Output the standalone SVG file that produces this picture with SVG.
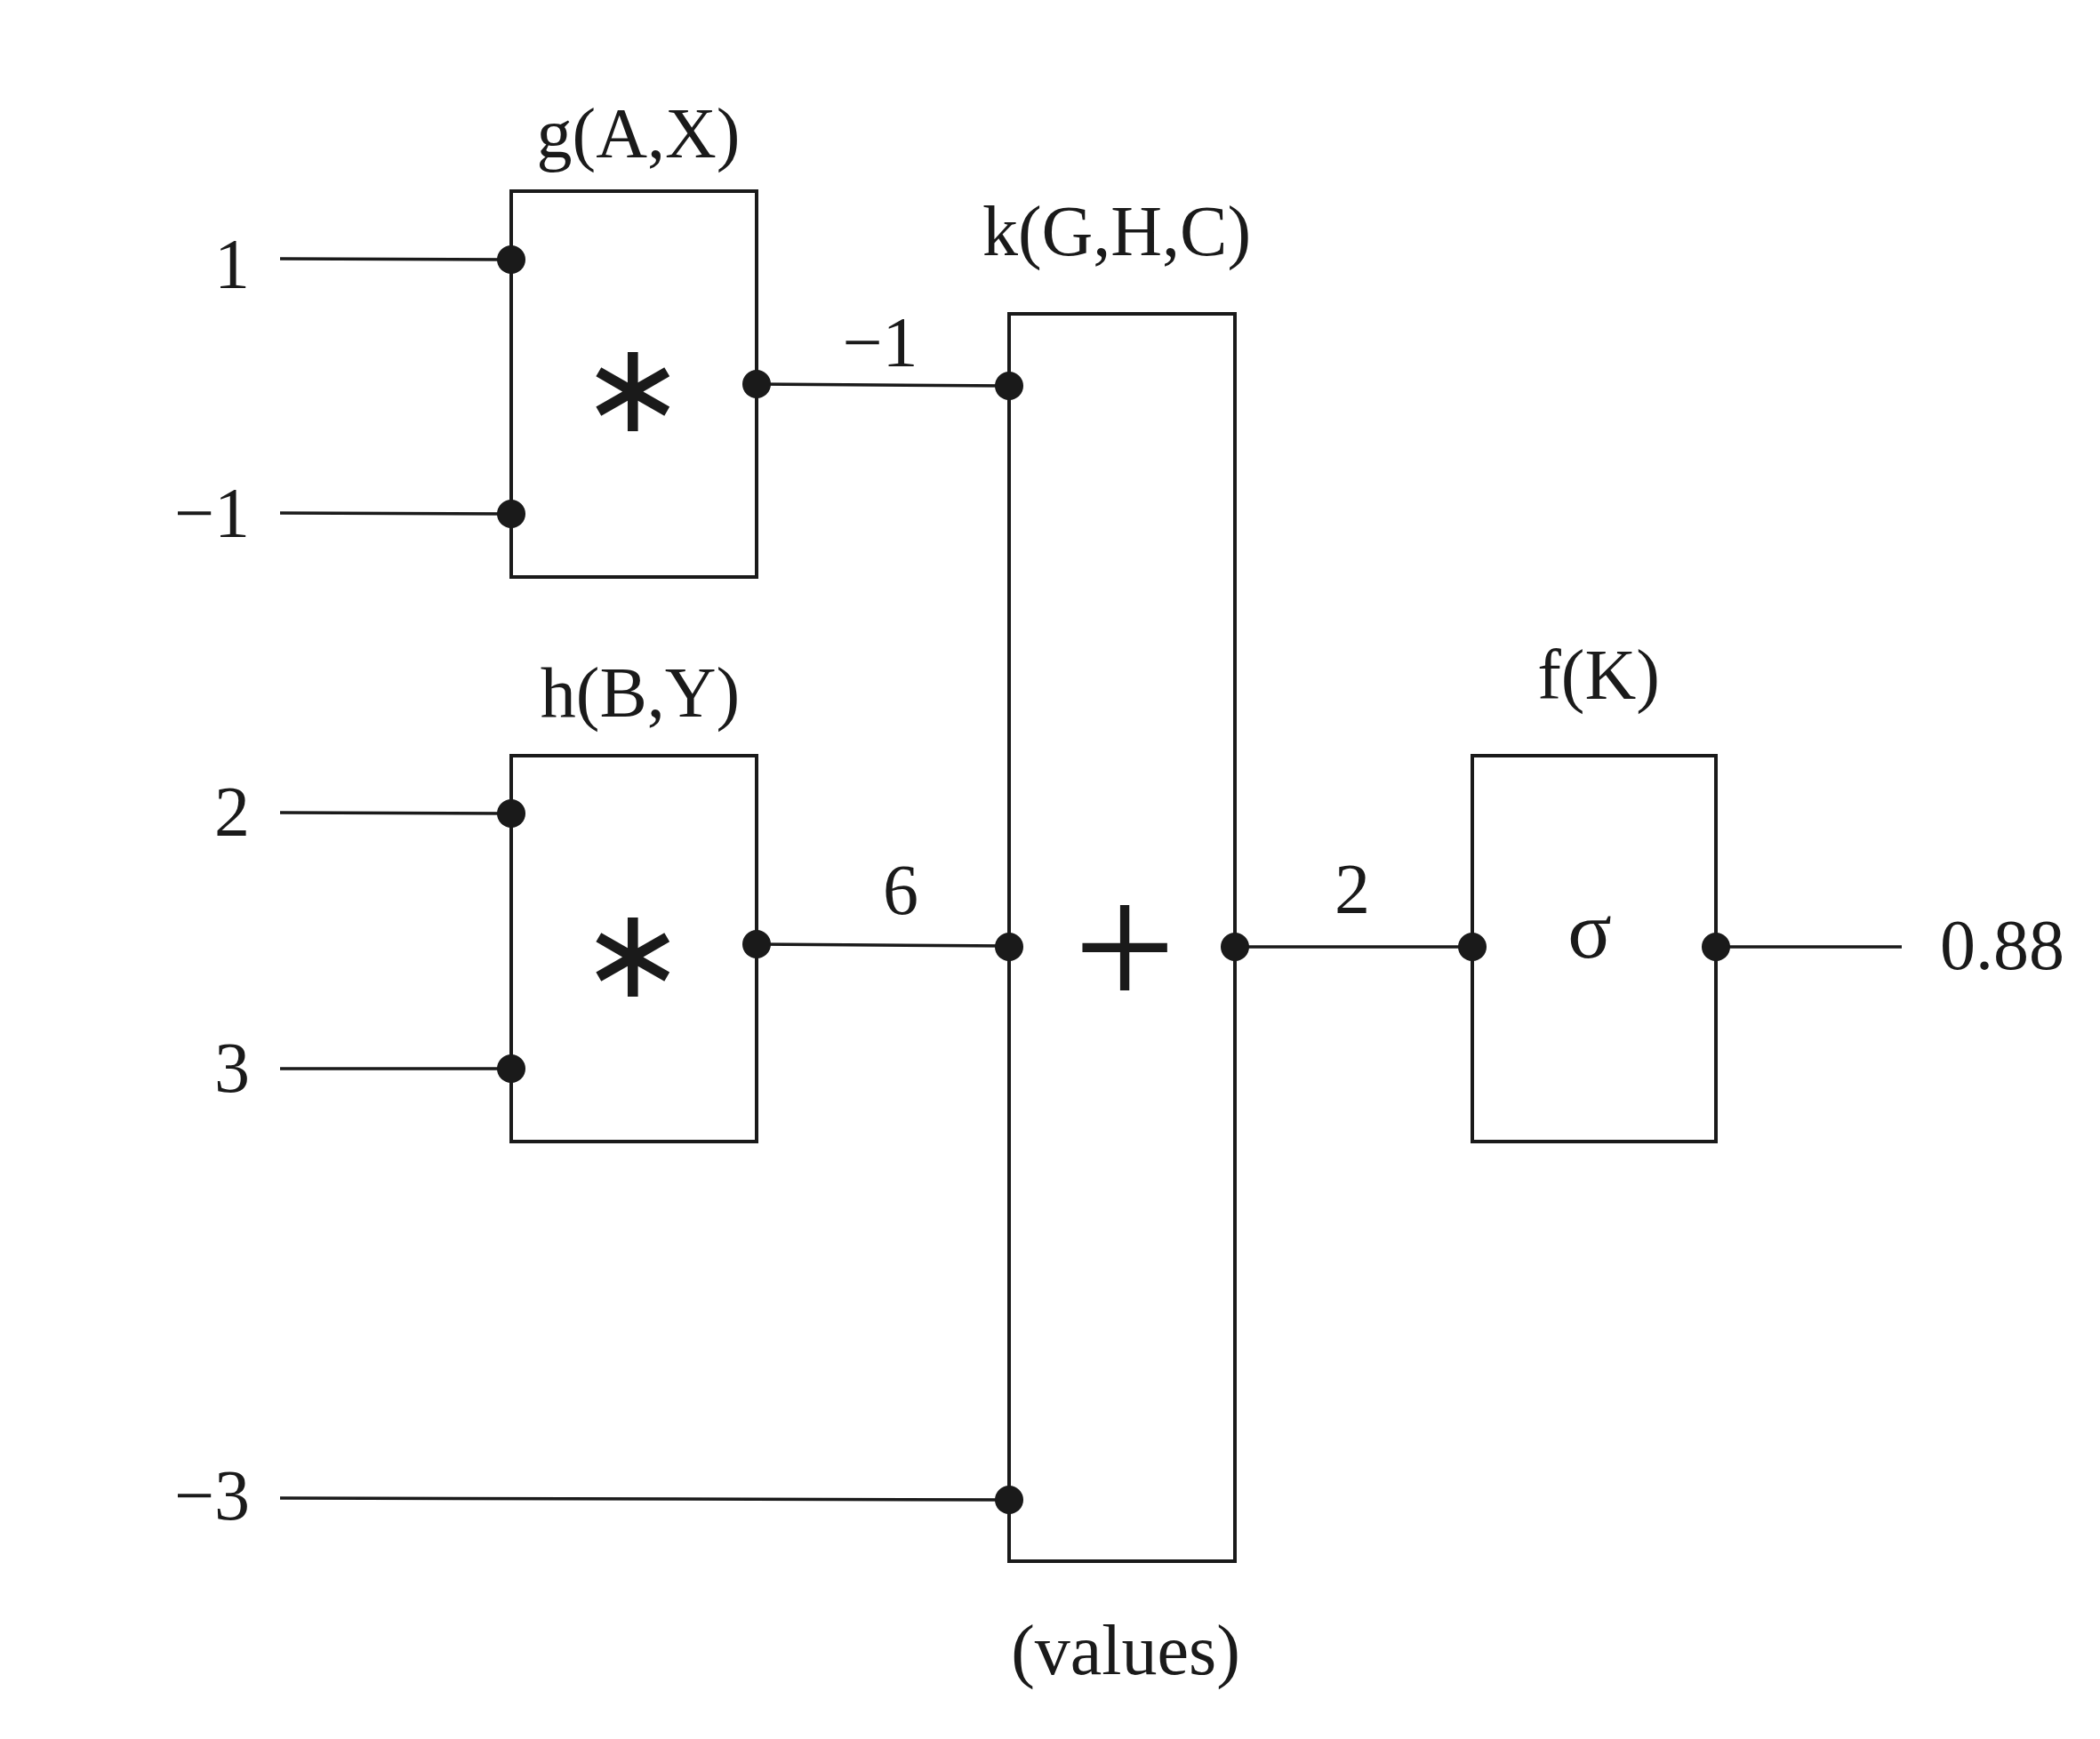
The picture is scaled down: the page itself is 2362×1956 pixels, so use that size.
<svg xmlns="http://www.w3.org/2000/svg" width="2362" height="1956" viewBox="0 0 2362 1956">
<style>
.box{fill:none;stroke:#1a1a1a;stroke-width:4}
.wire{stroke:#1a1a1a;stroke-width:3.5;fill:none}
.dot{fill:#1a1a1a}
.t{font-family:"Liberation Serif","Times New Roman",serif;font-size:80px;fill:#1a1a1a}
.c{text-anchor:middle}
.e{text-anchor:end}
.ast{font-family:"DejaVu Sans",sans-serif;font-size:142px;fill:#1a1a1a;text-anchor:middle}
.op{font-family:"Liberation Serif",serif;font-size:205px;fill:#1a1a1a;text-anchor:middle}
.sig{font-family:"Liberation Serif",serif;font-size:92px;fill:#1a1a1a;text-anchor:middle}
</style>
<rect width="2362" height="1956" fill="#ffffff"/>
<g id="connectors">
<line class="wire" x1="315" y1="291" x2="575" y2="292"/>
<line class="wire" x1="315" y1="577" x2="575" y2="578"/>
<line class="wire" x1="315" y1="914" x2="575" y2="915"/>
<line class="wire" x1="315" y1="1202" x2="575" y2="1202"/>
<line class="wire" x1="315" y1="1685" x2="1135" y2="1687"/>
<line class="wire" x1="851" y1="432" x2="1135" y2="434"/>
<line class="wire" x1="851" y1="1062" x2="1135" y2="1064"/>
<line class="wire" x1="1389" y1="1065" x2="1656" y2="1065"/>
<line class="wire" x1="1930" y1="1065" x2="2139" y2="1065"/>
<text class="t c" x="990" y="412">−1</text>
<text class="t c" x="1013" y="1028">6</text>
<text class="t c" x="1521" y="1027">2</text>
</g>
<g id="inputs">
<text class="t e" x="281" y="324">1</text>
<text class="t e" x="281" y="604">−1</text>
<text class="t e" x="281" y="940">2</text>
<text class="t e" x="281" y="1228">3</text>
<text class="t e" x="281" y="1709">−3</text>
</g>
<g id="node-g">
<text class="t c" x="718" y="177">g(A,X)</text>
<rect class="box" x="575" y="215" width="276" height="434"/>
<text class="ast" x="712" y="485">∗</text>
<circle class="dot" cx="575" cy="292" r="16"/>
<circle class="dot" cx="575" cy="578" r="16"/>
<circle class="dot" cx="851" cy="432" r="16"/>
</g>
<g id="node-h">
<text class="t c" x="720" y="806">h(B,Y)</text>
<rect class="box" x="575" y="850" width="276" height="434"/>
<text class="ast" x="712" y="1121">∗</text>
<circle class="dot" cx="575" cy="915" r="16"/>
<circle class="dot" cx="575" cy="1202" r="16"/>
<circle class="dot" cx="851" cy="1062" r="16"/>
</g>
<g id="node-k">
<text class="t c" x="1256" y="287">k(G,H,C)</text>
<rect class="box" x="1135" y="353" width="254" height="1403"/>
<text class="op" x="1265" y="1134">+</text>
<text class="t c" x="1266" y="1883">(values)</text>
<circle class="dot" cx="1135" cy="434" r="16"/>
<circle class="dot" cx="1135" cy="1065" r="16"/>
<circle class="dot" cx="1135" cy="1687" r="16"/>
<circle class="dot" cx="1389" cy="1065" r="16"/>
</g>
<g id="node-f">
<text class="t c" x="1798" y="786">f(K)</text>
<rect class="box" x="1656" y="850" width="274" height="434"/>
<text class="sig" x="1788" y="1077">σ</text>
<circle class="dot" cx="1656" cy="1065" r="16"/>
<circle class="dot" cx="1930" cy="1065" r="16"/>
</g>
<g id="output">
<text class="t" x="2182" y="1090">0.88</text>
</g>
</svg>
